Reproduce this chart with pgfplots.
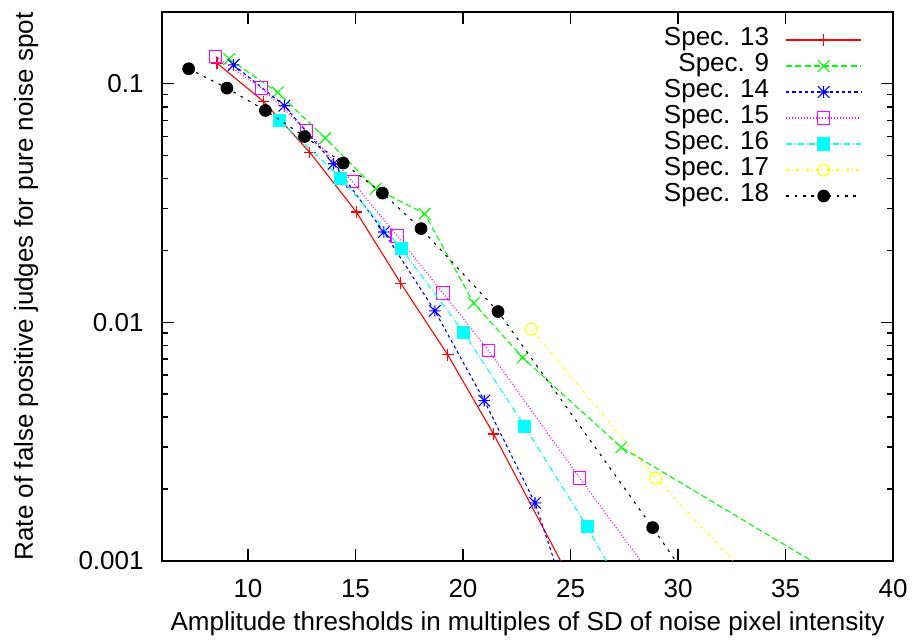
\documentclass[border=0pt]{standalone}
\usepackage{fontspec}
\setmainfont{Liberation Sans}
\usepackage{pgfplots}
\pgfplotsset{compat=1.18}
\definecolor{gpred}{rgb}{1,0,0}
\definecolor{gpgreen}{rgb}{0,1,0}
\definecolor{gpblue}{rgb}{0,0,1}
\definecolor{gpmag}{rgb}{1,0,1}
\definecolor{gpcyan}{rgb}{0,1,1}
\definecolor{gpyellow}{rgb}{1,1,0}
\pgfdeclareplotmark{gpstar}{%
 \pgfpathmoveto{\pgfqpoint{-\pgfplotmarksize}{0pt}}%
 \pgfpathlineto{\pgfqpoint{\pgfplotmarksize}{0pt}}%
 \pgfpathmoveto{\pgfqpoint{0pt}{-\pgfplotmarksize}}%
 \pgfpathlineto{\pgfqpoint{0pt}{\pgfplotmarksize}}%
 \pgfpathmoveto{\pgfqpoint{-\pgfplotmarksize}{-\pgfplotmarksize}}%
 \pgfpathlineto{\pgfqpoint{\pgfplotmarksize}{\pgfplotmarksize}}%
 \pgfpathmoveto{\pgfqpoint{-\pgfplotmarksize}{\pgfplotmarksize}}%
 \pgfpathlineto{\pgfqpoint{\pgfplotmarksize}{-\pgfplotmarksize}}%
 \pgfusepathqstroke}
\begin{document}
\fontsize{13}{15.6}\selectfont
\begin{tikzpicture}
\path[use as bounding box] (-81pt,-40.65pt) rectangle (376pt,280.35pt);
\begin{axis}[
  at={(0,0)}, anchor=south west,
  scale only axis,
  width=365.5pt, height=274.35pt,
  ymode=log,
  xmin=6, xmax=40, ymin=0.001, ymax=0.2,
  xtick={10,15,20,25,30,35,40},
  ytick={0.001,0.01,0.1},
  yticklabels={0.001,0.01,0.1},
  /pgf/number format/assume math mode=true,
  tick align=inside,
  major tick length=6pt, minor tick length=3pt,
  every tick/.style={black, line width=0.7pt},
  axis line style={black, line width=1pt},
  xticklabel style={anchor=base, yshift=-18.15pt, inner sep=0pt},
  yticklabel style={anchor=east, xshift=-9pt, inner sep=0pt},
  xlabel={Amplitude thresholds in multiples of SD of noise pixel intensity},
  ylabel={Rate of false positive judges for pure noise spot},
  xlabel style={at={(axis description cs:0.5,-0.1263)}, anchor=base, inner sep=0pt},
  ylabel style={at={(axis description cs:-0.1765,0.5)}, anchor=base, rotate=0, inner sep=0pt},
  clip marker paths=true,
  legend plot pos=right,
  legend cell align=right,
  legend style={at={(axis description cs:0.9572,0.9727)}, anchor=north east,
    draw=none, fill=none, inner sep=0pt, outer sep=0pt, row sep=0pt, column sep=8.3pt,
    nodes={inner sep=0pt, text height=9.5pt, text depth=3.5pt}},
  legend image code/.code={\draw[mark repeat=2,mark phase=2,#1] plot coordinates {(0pt,0pt) (18.75pt,0pt) (37.5pt,0pt)};},
  every axis plot/.append style={line width=0.55pt},
]
\addplot[color=gpred, draw=gpred, solid, mark=+, mark size=2.9pt, mark options={solid, draw=gpred}] coordinates {
(8.56,0.122) (10.72,0.0843) (12.88,0.0515) (15.04,0.0290) (17.10,0.01459) (19.29,0.00730) (21.42,0.00340) (25.72,0.000628)};
\addlegendentry{Spec. 13}
\addplot[color=gpgreen, draw=gpgreen, dash pattern=on 3pt off 1.6pt, mark=x, mark size=4.1pt, mark options={solid, draw=gpgreen}] coordinates {
(9.12,0.127) (11.38,0.0920) (13.59,0.0592) (15.94,0.0363) (18.22,0.0285) (20.50,0.01202) (22.77,0.00711) (27.36,0.00299) (38.31,0.00077)};
\addlegendentry{Spec. 9}
\addplot[color=gpblue, draw=gpblue, dash pattern=on 1.6pt off 1.5pt, mark=gpstar, mark size=2.9pt, mark options={solid, draw=gpblue}] coordinates {
(9.33,0.120) (11.69,0.0809) (13.98,0.0462) (16.32,0.0239) (18.69,0.01116) (20.99,0.00469) (23.35,0.001747) (25.69,0.000405)};
\addlegendentry{Spec. 14}
\addplot[color=gpmag, draw=gpmag, dash pattern=on 0.5pt off 1pt, mark=square, mark size=3.1pt, mark options={solid, draw=gpmag}] coordinates {
(8.50,0.130) (10.62,0.0959) (12.73,0.0637) (14.86,0.0389) (16.94,0.0230) (19.07,0.01325) (21.19,0.0076) (25.43,0.00222) (29.66,0.000673)};
\addlegendentry{Spec. 15}
\addplot[color=gpcyan, draw=gpcyan, dash pattern=on 3pt off 1.2pt on 0.4pt off 1.2pt, mark=square*, mark size=3pt, mark options={solid, draw=gpcyan, fill=gpcyan}] coordinates {
(11.46,0.0702) (14.32,0.0402) (17.14,0.0203) (20.03,0.00906) (22.88,0.00365) (25.77,0.00139) (28.62,0.00048)};
\addlegendentry{Spec. 16}
\addplot[color=gpyellow, draw=gpyellow, dash pattern=on 1.5pt off 1.5pt on 0.5pt off 1.5pt, mark=o, mark size=3pt, mark options={solid, draw=gpyellow}] coordinates {
(23.18,0.00936) (28.96,0.00222) (34.75,0.000619)};
\addlegendentry{Spec. 17}
\addplot[color=black, draw=black, dash pattern=on 1.3pt off 2.9pt, mark=*, mark size=2.9pt, mark options={solid, draw=black, fill=black}] coordinates {
(7.24,0.1156) (9.02,0.0959) (10.81,0.0773) (12.63,0.0601) (14.43,0.0465) (16.25,0.0348) (18.05,0.0247) (21.63,0.01109) (28.82,0.001377) (30.63,0.0008)};
\addlegendentry{Spec. 18}
\end{axis}
\end{tikzpicture}
\end{document}
